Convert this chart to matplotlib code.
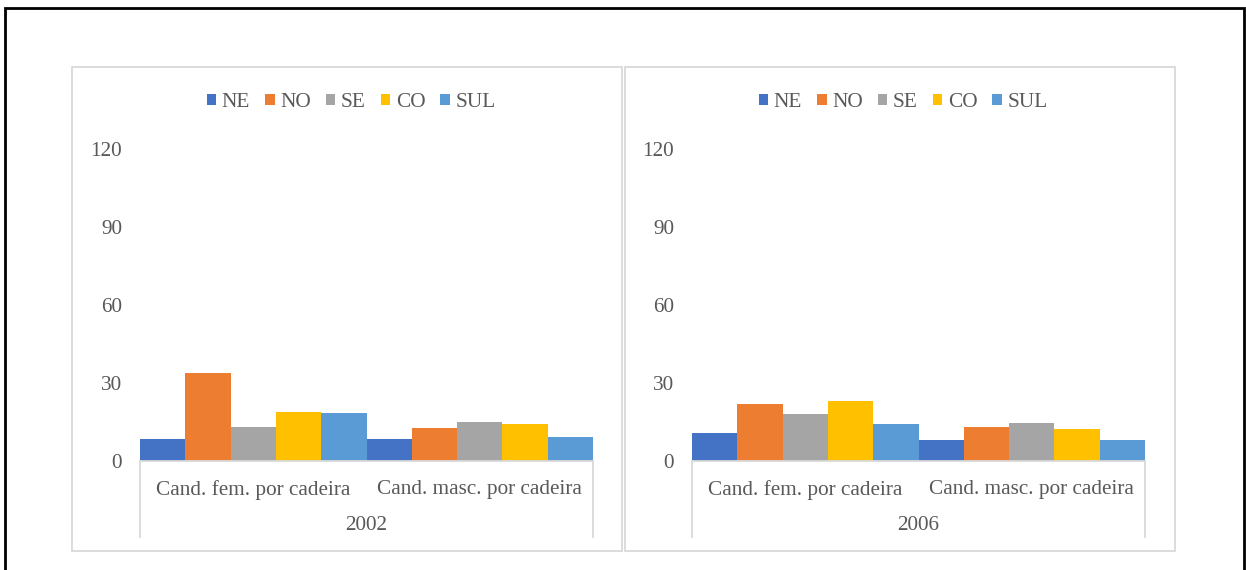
import matplotlib
matplotlib.use("Agg")
import matplotlib.pyplot as plt
from matplotlib.patches import Rectangle

plt.rcParams['font.family'] = ['Liberation Serif', 'DejaVu Serif']

regions = ['NE', 'NO', 'SE', 'CO', 'SUL']
colors = ['#4472C4', '#ED7D31', '#A5A5A5', '#FFC000', '#5B9BD5']
categories = ['Cand. fem. por cadeira', 'Cand. masc. por cadeira']
years = ['2002', '2006']

fem_2002 = [8.3, 33.8, 13.2, 18.7, 18.3]
masc_2002 = [8.6, 12.6, 14.9, 14.1, 9.4]
fem_2006 = [10.9, 21.8, 18.2, 23.1, 14.2]
masc_2006 = [8.1, 13.2, 14.6, 12.3, 8.0]

panels = [(fem_2002, masc_2002), (fem_2006, masc_2006)]

W, H = 1246, 570
fig = plt.figure(figsize=(W / 100, H / 100), dpi=100)
txt = '#595959'
grid = '#d9d9d9'
fs = 15.3

# outer black frame and panel frames (pixel coords -> figure fraction)
def fr(x0, y0, x1, y1):
    return (x0 / W, 1 - y1 / H), (x1 - x0) / W, (y1 - y0) / H

xy, w, h = fr(5, 8, 1244, 580)
fig.patches.append(Rectangle(xy, w, h, transform=fig.transFigure, fill=False,
                             edgecolor='black', lw=2.0, clip_on=False))
for bx0, bx1 in [(72, 622), (625, 1175)]:
    xy, w, h = fr(bx0, 67, bx1, 551)
    fig.patches.append(Rectangle(xy, w, h, transform=fig.transFigure, fill=False,
                                 edgecolor=grid, lw=1.3))

plot_left = [140, 692]
for k, (fem, masc) in enumerate(panels):
    x0 = plot_left[k]
    ax = fig.add_axes([x0 / W, (H - 461) / H, 453 / W, 312 / H])
    for j, reg in enumerate(regions):
        vals = [fem[j], masc[j]]
        xs = [i - 0.5 + (j + 0.5) * 0.2 for i in range(len(categories))]
        ax.bar(xs, vals, width=0.2, color=colors[j], label=reg, zorder=2)
    ax.set_xlim(-0.5, 1.5)
    ax.set_ylim(0, 120)
    ax.set_yticks([0, 30, 60, 90, 120])
    ax.tick_params(axis='y', length=0, pad=13, labelsize=fs, labelcolor=txt)
    ax.set_xticks([])
    for s in ['top', 'right', 'left']:
        ax.spines[s].set_visible(False)
    ax.spines['bottom'].set_color(grid)
    ax.spines['bottom'].set_linewidth(1.3)

    # multi-level category axis
    for xa in [0, 1]:
        ax.plot([xa, xa], [0, -0.2436], transform=ax.transAxes, color=grid,
                lw=1.3, clip_on=False)
    for i, cat in enumerate(categories):
        ax.text((i + 0.5) / 2, -0.092, cat, transform=ax.transAxes,
                ha='center', va='center', fontsize=fs, color=txt)
    ax.text(0.5, -0.208, years[k], transform=ax.transAxes,
            ha='center', va='center', fontsize=fs, color=txt)

    cx = [351, 903][k]
    ax.legend(loc='center', bbox_to_anchor=(cx / W, 1 - 102.5 / H),
              bbox_transform=fig.transFigure, ncol=5, frameon=False,
              fontsize=fs, labelcolor=txt, handlelength=0.46, handleheight=0.46,
              handletextpad=0.25, columnspacing=0.7, borderpad=0)

fig.savefig('out.png', dpi=100)
